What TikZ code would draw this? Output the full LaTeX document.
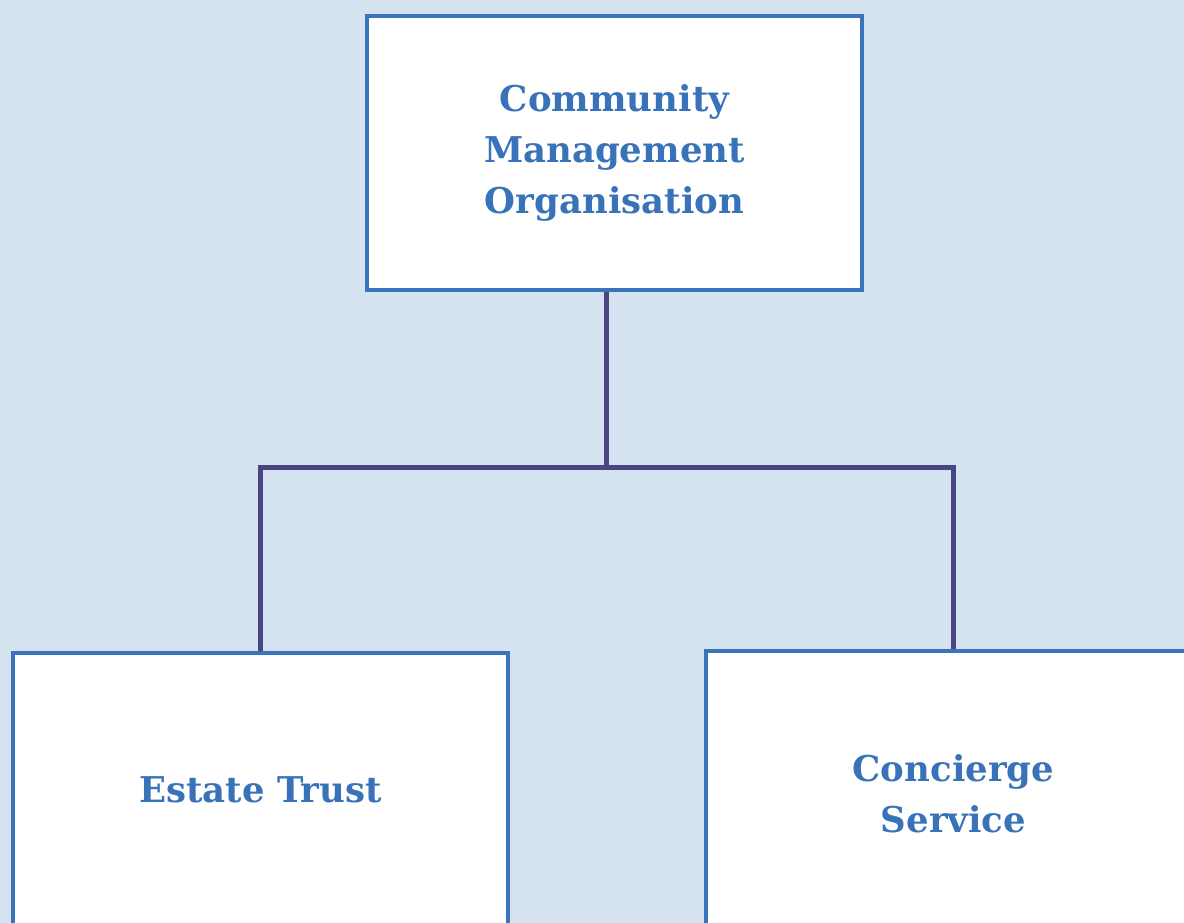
\documentclass[tikz,border=0pt]{standalone}
\usepackage{fontspec}
\setmainfont{DejaVu Serif}
\usetikzlibrary{positioning,calc}
\definecolor{sky}{RGB}{213,226,240}
\definecolor{frame}{RGB}{58,116,186}
\definecolor{label}{RGB}{56,114,184}
\definecolor{stem}{RGB}{74,71,128}
\tikzset{
  unit/.style={draw=frame,fill=white,line width=3.5pt,minimum width=495pt,
    minimum height=274pt,align=center,text=label,
    font=\fontsize{35.5}{51}\selectfont\bfseries},
  branch/.style={draw=stem,line width=5pt},
}

\begin{document}
\begin{tikzpicture}[x=1pt,y=1pt]
    \fill[sky] (0,0) rectangle (1184,-923);
    \clip (0,0) rectangle (1184,-923);
    \useasboundingbox (0,0) rectangle (1184,-923);
    % boxes
    \node[unit] (cmo) at (614.5,-153) {Community\\Management\\Organisation};
    \node[unit] (trust) at (260.5,-790) {Estate Trust};
    \node[unit,minimum height=286pt] (concierge) at (953.5,-794) {Concierge\\Service};
    % connectors
    \coordinate (fork) at (606,-467);
    \draw[branch] (fork |- cmo.south) -- (fork);
    \draw[branch] (trust.north) |- (fork) -| (concierge.north);
  \end{tikzpicture}
\end{document}
